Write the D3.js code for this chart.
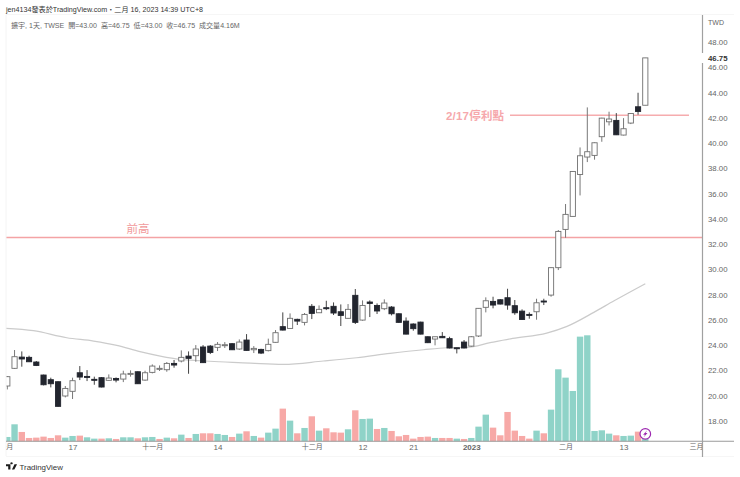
<!DOCTYPE html>
<html><head><meta charset="utf-8">
<script src="https://cdn.jsdelivr.net/npm/d3@7/dist/d3.min.js"></script>
<style>
html,body{margin:0;padding:0;background:#fff}
svg{display:block}
text{font-family:"Liberation Sans","Noto Sans CJK TC",sans-serif}
</style></head><body>
<svg id="c" width="740" height="477"></svg>
<script>
const highs=[21.56,23.62,23.51,23.17,22.75,21.67,21.43,21.14,20.77,21.43,22.35,22.03,21.51,21.48,21.69,21.45,21.98,22.01,21.93,21.98,22.48,22.40,22.67,22.83,23.59,23.51,24.01,24.01,24.01,24.25,24.25,24.17,24.46,24.88,23.93,23.72,24.52,25.20,26.60,26.52,26.10,26.55,27.26,27.15,27.52,27.39,27.23,27.26,28.45,27.55,27.55,27.31,27.63,27.10,26.52,26.20,25.73,25.86,24.70,24.67,25.04,24.67,23.80,24.41,24.73,26.94,27.79,27.84,27.65,28.47,27.58,26.84,26.60,27.68,27.68,30.14,33.12,35.18,37.76,39.66,42.83,40.06,42.01,42.49,42.38,41.98,42.38,43.99,46.75];
const bodyTops=[21.51,23.09,23.06,23.04,22.67,21.64,21.27,21.11,20.58,21.19,21.82,21.53,21.30,21.43,21.40,21.37,21.72,21.77,21.90,21.82,22.35,22.17,22.56,22.56,23.04,23.14,23.70,23.86,23.93,24.07,24.04,24.12,24.25,24.41,23.75,23.67,24.07,24.99,25.47,26.13,26.05,26.44,27.08,26.84,26.97,27.08,26.65,26.84,27.95,27.15,27.42,27.15,27.34,27.02,26.49,25.91,25.68,25.83,24.67,24.67,24.70,24.52,23.80,24.25,24.67,26.92,27.52,27.47,27.60,27.76,27.13,26.70,26.44,27.36,27.50,30.14,33.01,34.36,37.76,39.00,39.32,40.03,41.98,41.91,41.80,41.14,42.35,42.88,46.75];
const bodyBottoms=[20.77,22.17,22.91,22.69,22.40,20.87,20.95,19.16,19.98,20.35,21.48,21.45,21.24,20.69,21.22,21.24,21.32,21.72,20.95,21.24,21.85,22.14,22.06,22.43,22.75,22.96,23.17,22.62,23.43,23.83,23.99,23.64,23.70,23.59,23.64,23.38,23.57,24.23,25.20,25.33,25.91,25.81,26.52,26.57,26.92,26.55,26.36,26.13,25.81,25.99,27.31,26.71,26.89,26.49,25.81,24.88,25.31,24.88,24.20,24.49,24.59,23.78,23.75,23.78,23.93,24.73,27.00,27.18,27.26,27.18,26.57,26.04,26.36,26.65,27.44,27.97,30.14,33.17,34.20,37.52,38.90,39.03,40.51,41.69,40.66,40.64,41.59,42.51,43.00];
const lows=[20.50,22.12,22.30,22.67,22.35,20.82,20.66,19.13,19.87,19.74,21.24,21.16,20.87,20.66,21.19,21.06,21.08,21.51,20.93,21.19,21.77,21.96,21.90,22.22,22.64,21.74,22.69,22.59,23.30,23.54,23.78,23.62,23.64,23.57,23.38,23.30,23.51,24.20,25.17,25.31,25.60,25.57,26.07,26.55,26.78,26.39,25.52,26.10,25.68,25.94,26.23,26.47,26.78,26.36,25.78,24.86,25.15,24.86,24.17,23.99,24.57,23.75,23.35,23.75,23.88,24.65,26.60,26.92,27.23,26.81,26.41,26.02,26.10,26.02,27.18,27.84,29.95,32.51,34.20,35.86,38.50,38.69,40.11,41.40,40.64,40.61,41.51,42.25,43.00];
const candleDir="wwbbbbbbwwbbbbwbwwbwwwwbwbwbbwwbwbwbwwbwbwbwbbbwbwbbwbbbbbbwbbbbwwwbbbbbbwbwwwwwwwwwbwwbw".split("");
const volumes=[2.6,10.2,5.6,2,2.2,2.8,2,3.6,2.2,3.2,3.4,2.4,1.6,1.6,1.8,1.4,2.4,2.4,1.8,2.4,2.6,1.4,2.2,1.8,4,2,4.4,4.8,4.8,4.4,3.8,2.6,4.6,6,3.2,2.2,5.2,7.6,19.6,12.4,4.8,8,15,6.4,7.8,5.4,5.2,7.2,18.6,13.4,13.6,7.4,8,6.2,3,3.8,1.6,2.6,2.8,2,2,2,1.6,1.4,2,8.8,16,8.2,3.6,17.6,6.4,3.2,1.6,6.4,4.8,19,43.2,38.2,30.2,62.8,63.6,6.2,6.6,4.6,3.6,3.2,3.4,5.8,4.16];
const volumeDir="ttpppppptt"+"pttptpttpt"+"tptptptppt"+"tptptpttpt"+"ptptppptpt"+"tptppppppt"+"pptptttppp"+"ppptpttttt"+"ttttpttpt";
const maIndex=[-0.2,3.6,8.2,11.9,15.1,18.3,21.1,23.8,26.6,29.3,33.5,34.9,38.1,43.6,48.2,52.8,57.4,60.6,63.4,66.6,69.7,74.4,77.2,80.9,83.7,88];
const maValues=[25.33,25.15,24.59,24.33,23.99,23.49,23.14,22.88,22.77,22.69,22.59,22.54,22.48,22.75,23.01,23.35,23.64,23.80,23.83,24.2,24.54,24.96,25.49,26.6,27.52,28.87];
const priceTicks=[18,20,22,24,26,28,30,32,34,36,38,40,42,44,46,48];
const timeTickIndex=[-0.2,9,20,29,42,49,56,64,77,85,95];
const timeTickLabels=["十月","17","十一月","14","十二月","12","21","2023","二月","13","三月"];
const resistance=32.52, stopProfit=42.2, lastClose=46.75;
const headerLine="jen4134發表於TradingView.com・二月 16, 2023 14:39 UTC+8";
const legendLine="擴宇, 1天, TWSE  開=43.00  高=46.75  低=43.00  收=46.75  成交量4.16M";

const svg=d3.select("#c");
const L=6,R=702.5,AX=441.3;
const x=d3.scaleLinear().domain([0,88]).range([7.3,645.3]);
const y=d3.scaleLinear().domain([18,48]).range([421,42.1]);
const v=d3.scaleLinear().domain([0,63.6]).range([AX,AX-106]);

const defs=svg.append("defs");
defs.append("clipPath").attr("id","plot").append("rect").attr("x",L).attr("y",14).attr("width",R-L).attr("height",450);
defs.append("clipPath").attr("id","plot2").append("rect").attr("x",L).attr("y",0).attr("width",734-L).attr("height",30);
const plot=svg.append("g").attr("clip-path","url(#plot)");

// frame hints
svg.append("line").attr("x1",L).attr("x2",L).attr("y1",15).attr("y2",456).attr("stroke","#f4f4f4");
svg.append("line").attr("x1",L).attr("x2",734).attr("y1",14.5).attr("y2",14.5).attr("stroke","#f6f6f6");
svg.append("line").attr("x1",L).attr("x2",734).attr("y1",456.5).attr("y2",456.5).attr("stroke","#f6f6f6");

// volume
plot.selectAll("rect.vol").data(volumes).join("rect").attr("class","vol")
 .attr("x",(d,i)=>x(i)-3.2).attr("width",6.4)
 .attr("y",d=>v(d)).attr("height",d=>AX-v(d))
 .attr("fill",(d,i)=>volumeDir[i]==="t"?"#8fd3c8":"#f7a9a7");

// MA
plot.append("path").attr("fill","none").attr("stroke","#cbcbcb").attr("stroke-width",1.2)
 .attr("d",d3.line().x(d=>x(d[0])).y(d=>y(d[1])).curve(d3.curveMonotoneX)(maIndex.map((m,i)=>[m,maValues[i]])));

// annotation lines
plot.append("line").attr("x1",L).attr("x2",R).attr("y1",y(resistance)).attr("y2",y(resistance)).attr("stroke","#f4a3a5").attr("stroke-width",1.5);
plot.append("line").attr("x1",510).attr("x2",689).attr("y1",y(stopProfit)).attr("y2",y(stopProfit)).attr("stroke","#f6acae").attr("stroke-width",1.5);

// candles
const dark="#22252e", edge="#6f6f6f";
const g=plot.selectAll("g.c").data(highs).join("g").attr("class","c");
g.append("line").attr("x1",(d,i)=>x(i)).attr("x2",(d,i)=>x(i))
 .attr("y1",(d,i)=>y(highs[i])).attr("y2",(d,i)=>y(lows[i]))
 .attr("stroke",(d,i)=>candleDir[i]==="w"?"#777":"#444").attr("stroke-width",1);
g.append("rect").attr("x",(d,i)=>x(i)-2.6).attr("width",5.2)
 .attr("y",(d,i)=>y(bodyTops[i])).attr("height",(d,i)=>Math.max(1,y(bodyBottoms[i])-y(bodyTops[i])))
 .attr("fill",(d,i)=>candleDir[i]==="w"?"#fff":dark)
 .attr("stroke",(d,i)=>candleDir[i]==="w"?edge:dark).attr("stroke-width",0.9);

// axes
svg.append("line").attr("x1",L).attr("x2",734).attr("y1",AX).attr("y2",AX).attr("stroke","#9a9a9a").attr("stroke-width",1.1);

const ya=d3.axisRight(y).tickValues(priceTicks).tickFormat(d3.format(".2f")).tickSize(0).tickPadding(5.5);
const yg=svg.append("g").attr("transform",`translate(${R},0)`).call(ya);
yg.select(".domain").remove();
yg.selectAll("text").attr("fill","#666").attr("font-size",7.8);

const xa=d3.axisBottom(x).tickValues(timeTickIndex).tickFormat((d,i)=>timeTickLabels[i]).tickSize(0).tickPadding(3);
const xg=svg.append("g").attr("clip-path","url(#plot2)").attr("transform",`translate(0,${AX})`).call(xa);
xg.select(".domain").remove();
xg.selectAll("text").attr("fill","#666").attr("font-size",(d,i)=>/\d/.test(timeTickLabels[i])?8:7)
 .attr("font-weight",d=>d===64?"bold":"normal");

// price scale line, broken behind the last price
svg.append("line").attr("x1",R).attr("x2",R).attr("y1",15).attr("y2",53).attr("stroke","#a0a0a0").attr("stroke-width",1.2);
svg.append("line").attr("x1",R).attr("x2",R).attr("y1",63).attr("y2",457).attr("stroke","#a0a0a0").attr("stroke-width",1.2);
svg.append("text").attr("x",708).attr("y",y(lastClose)+3).attr("font-size",7.8).attr("font-weight","bold").attr("fill","#333").text(d3.format(".2f")(lastClose));
svg.append("text").attr("x",708).attr("y",25).attr("font-size",7).attr("fill","#666").text("TWD");

// texts
svg.append("text").attr("x",6).attr("y",12).attr("font-size",7.15).attr("fill","#333").text(headerLine);
svg.append("text").attr("x",11).attr("y",28).attr("font-size",7.05).attr("fill","#666").attr("xml:space","preserve").text(legendLine);
svg.append("text").attr("x",138).attr("y",233).attr("text-anchor","middle").attr("font-size",11.5).attr("fill","#f19a9c").text("前高");
svg.append("text").attr("x",446).attr("y",120).attr("font-size",11.5).attr("font-weight","bold").attr("letter-spacing",0.2).attr("fill","#f6a8ac").text("2/17停利點");

// lightning marker
const mx=x(88),my=433.9;
svg.append("circle").attr("cx",mx).attr("cy",my).attr("r",5.3).attr("fill","#fff").attr("stroke","#9c27b0").attr("stroke-width",1.2);
svg.append("path").attr("transform",`translate(${mx},${my})`).attr("d","M1.8,-3.6 L-2.2,0.8 L-0.2,0.8 L-1.8,3.6 L2.2,-0.8 L0.2,-0.8 Z").attr("fill","#9c27b0");

// TradingView mark
const tv=svg.append("g").attr("transform","translate(6,464) scale(0.85,0.72)");
tv.append("path").attr("d","M0,0.5 H5.2 V7.5 H2.6 V3 H0 Z M6.5,0.5 a1.5,1.5 0 1 1 0.01,0 Z M10,0.5 H13 L9.8,7.5 H7 Z").attr("fill","#1c1c1c");
svg.append("text").attr("x",19.5).attr("y",470).attr("font-size",7.9).attr("font-weight","500").attr("fill","#333").text("TradingView");
</script></body></html>
